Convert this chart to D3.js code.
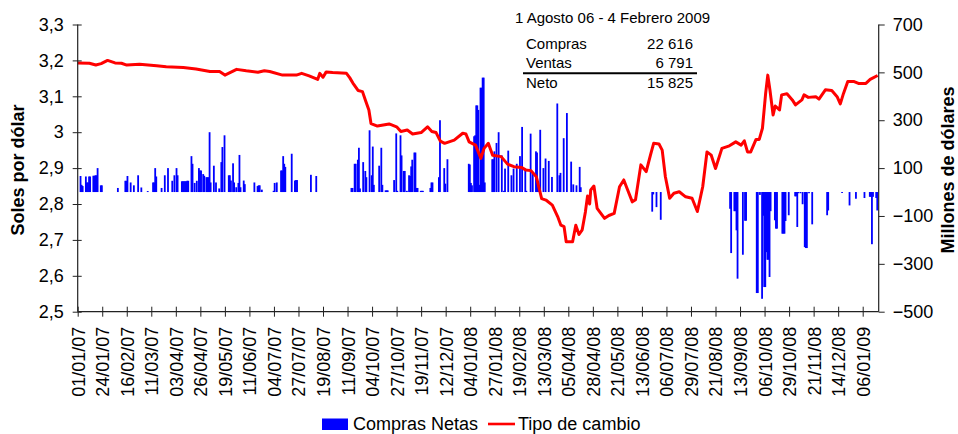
<!DOCTYPE html>
<html>
<head>
<meta charset="utf-8">
<script src="https://cdn.jsdelivr.net/npm/d3@7"></script>
<style>
  body { margin: 0; background: #fff; }
  svg { font-family: "Liberation Sans", Arial, sans-serif; }
</style>
</head>
<body>
<div id="canvas"></div>
<script>
// tipo de cambio (S/. por US$)
const tipoCambio = [
  ["2007-01-01",3.193],["2007-01-12",3.192],["2007-01-18",3.187],["2007-01-23",3.191],["2007-01-29",3.200],
  ["2007-02-05",3.193],["2007-02-11",3.192],["2007-02-16",3.187],["2007-02-28",3.189],["2007-03-16",3.185],
  ["2007-03-25",3.182],["2007-04-10",3.180],["2007-04-22",3.176],["2007-05-05",3.169],["2007-05-14",3.169],
  ["2007-05-19",3.159],["2007-05-30",3.175],["2007-06-08",3.171],["2007-06-19",3.167],["2007-06-25",3.171],
  ["2007-06-30",3.169],["2007-07-12",3.159],["2007-07-25",3.159],["2007-07-30",3.164],["2007-08-06",3.157],
  ["2007-08-14",3.147],["2007-08-16",3.164],["2007-08-19",3.153],["2007-08-22",3.168],["2007-08-28",3.166],
  ["2007-09-10",3.164],["2007-09-13",3.152],["2007-09-16",3.137],["2007-09-21",3.116],["2007-09-25",3.113],
  ["2007-09-28",3.087],["2007-10-01",3.062],["2007-10-03",3.024],["2007-10-09",3.017],["2007-10-20",3.023],
  ["2007-10-27",3.015],["2007-10-31",3.002],["2007-11-06",3.006],["2007-11-11",2.995],["2007-11-19",2.999],
  ["2007-11-25",3.015],["2007-11-29",3.002],["2007-12-03",2.999],["2007-12-07",2.975],["2007-12-11",2.969],
  ["2007-12-20",2.978],["2007-12-28",2.997],["2007-12-31",2.995],["2008-01-03",2.973],["2008-01-09",2.964],
  ["2008-01-14",2.927],["2008-01-17",2.955],["2008-01-21",2.969],["2008-01-25",2.936],["2008-02-02",2.932],
  ["2008-02-08",2.911],["2008-02-14",2.904],["2008-02-21",2.902],["2008-02-25",2.895],["2008-03-01",2.893],
  ["2008-03-06",2.876],["2008-03-09",2.839],["2008-03-11",2.815],["2008-03-15",2.811],["2008-03-21",2.797],
  ["2008-03-26",2.765],["2008-03-29",2.741],["2008-04-01",2.737],["2008-04-03",2.695],["2008-04-09",2.695],
  ["2008-04-12",2.741],["2008-04-15",2.715],["2008-04-18",2.728],["2008-04-21",2.778],["2008-04-23",2.822],
  ["2008-04-25",2.800],["2008-04-26",2.839],["2008-04-29",2.850],["2008-05-02",2.788],["2008-05-09",2.760],
  ["2008-05-13",2.768],["2008-05-18",2.774],["2008-05-23",2.848],["2008-05-27",2.867],["2008-05-30",2.844],
  ["2008-06-04",2.806],["2008-06-07",2.812],["2008-06-12",2.909],["2008-06-17",2.890],["2008-06-21",2.936],
  ["2008-06-24",2.969],["2008-06-29",2.967],["2008-07-02",2.950],["2008-07-05",2.876],["2008-07-09",2.816],
  ["2008-07-13",2.830],["2008-07-18",2.834],["2008-07-24",2.820],["2008-07-30",2.816],["2008-08-04",2.779],
  ["2008-08-09",2.848],["2008-08-13",2.945],["2008-08-17",2.936],["2008-08-21",2.899],["2008-08-27",2.955],
  ["2008-09-03",2.962],["2008-09-09",2.973],["2008-09-14",2.964],["2008-09-17",2.976],["2008-09-20",2.945],
  ["2008-09-23",2.945],["2008-09-28",2.980],["2008-10-01",2.980],["2008-10-04",3.011],["2008-10-07",3.108],
  ["2008-10-09",3.159],["2008-10-11",3.118],["2008-10-14",3.048],["2008-10-16",3.073],["2008-10-20",3.062],
  ["2008-10-22",3.104],["2008-10-27",3.107],["2008-11-01",3.090],["2008-11-04",3.076],["2008-11-10",3.090],
  ["2008-11-12",3.104],["2008-11-16",3.097],["2008-11-23",3.099],["2008-11-26",3.092],["2008-12-02",3.118],
  ["2008-12-08",3.116],["2008-12-13",3.099],["2008-12-16",3.079],["2008-12-19",3.108],["2008-12-23",3.141],
  ["2008-12-29",3.141],["2009-01-02",3.136],["2009-01-09",3.136],["2009-01-13",3.147],["2009-01-20",3.158]
];

// compras netas BCRP (millones US$), 2007
const comprasNetas2007 = [
  ["2007-01-03",67],["2007-01-04",30],["2007-01-05",25],["2007-01-08",65],["2007-01-09",40],["2007-01-10",40],
  ["2007-01-11",65],["2007-01-12",65],["2007-01-15",68],["2007-01-16",68],["2007-01-17",70],["2007-01-18",70],
  ["2007-01-19",100],["2007-01-22",28],["2007-01-23",28],["2007-02-07",17],["2007-02-14",47],["2007-02-15",47],
  ["2007-02-16",67],["2007-02-19",40],["2007-02-22",28],["2007-02-26",70],["2007-03-01",19],["2007-03-07",4],
  ["2007-03-12",40],["2007-03-13",40],["2007-03-14",100],["2007-03-15",65],["2007-03-20",17],["2007-03-23",70],
  ["2007-03-26",100],["2007-03-30",47],["2007-04-01",70],["2007-04-03",100],["2007-04-04",70],["2007-04-08",45],
  ["2007-04-09",45],["2007-04-10",45],["2007-04-11",45],["2007-04-12",45],["2007-04-13",47],["2007-04-14",47],
  ["2007-04-17",150],["2007-04-18",118],["2007-04-20",38],["2007-04-22",47],["2007-04-24",100],["2007-04-25",90],
  ["2007-04-26",90],["2007-04-28",75],["2007-04-29",68],["2007-05-01",62],["2007-05-02",62],["2007-05-03",62],
  ["2007-05-04",250],["2007-05-05",40],["2007-05-08",110],["2007-05-10",40],["2007-05-13",15],["2007-05-15",125],
  ["2007-05-16",188],["2007-05-18",237],["2007-05-22",70],["2007-05-23",70],["2007-05-24",48],["2007-05-26",120],
  ["2007-05-27",40],["2007-05-29",20],["2007-05-31",38],["2007-06-01",155],["2007-06-02",20],["2007-06-05",48],
  ["2007-06-06",33],["2007-06-15",40],["2007-06-18",25],["2007-06-19",28],["2007-06-20",28],["2007-06-22",10],
  ["2007-07-03",5],["2007-07-04",38],["2007-07-06",40],["2007-07-10",90],["2007-07-11",90],["2007-07-12",150],
  ["2007-07-13",118],["2007-07-14",105],["2007-07-20",160],["2007-07-23",48],["2007-07-24",50],["2007-07-25",50],
  ["2007-08-07",72],["2007-08-12",67],["2007-09-14",17],["2007-09-15",17],["2007-09-17",118],["2007-09-18",118],
  ["2007-09-20",135],["2007-09-21",185],["2007-09-22",15],["2007-09-25",125],["2007-09-27",88],["2007-09-28",62],
  ["2007-10-01",258],["2007-10-03",70],["2007-10-04",190],["2007-10-05",30],["2007-10-10",110],["2007-10-12",185],
  ["2007-10-13",30],["2007-10-16",7],["2007-10-17",7],["2007-10-18",7],["2007-10-24",50],["2007-10-26",245],
  ["2007-10-27",5],["2007-10-30",237],["2007-10-31",153],["2007-11-02",88],["2007-11-03",88],["2007-11-05",5],
  ["2007-11-07",70],["2007-11-08",67],["2007-11-09",107],["2007-11-10",135],["2007-11-12",165],["2007-11-13",165],
  ["2007-11-14",17],["2007-11-15",17],["2007-11-18",5],["2007-11-19",5],["2007-11-20",5],["2007-11-27",17],
  ["2007-11-28",40],["2007-11-29",40],["2007-12-05",62],["2007-12-06",300],["2007-12-10",100],["2007-12-11",35],
  ["2007-12-13",137]
];

// compras netas 2008 - ene 2009
const comprasNetas2008 = [
  ["2008-01-02",118],["2008-01-03",115],["2008-01-04",38],["2008-01-05",28],["2008-01-07",233],["2008-01-08",237],
  ["2008-01-09",362],["2008-01-10",362],["2008-01-11",343],["2008-01-12",30],["2008-01-13",436],["2008-01-14",436],
  ["2008-01-15",478],["2008-01-16",478],["2008-01-17",40],["2008-01-24",137],["2008-01-25",137],["2008-01-26",170],
  ["2008-01-28",205],["2008-01-30",250],["2008-02-02",153],["2008-02-04",5],["2008-02-05",98],["2008-02-08",173],
  ["2008-02-11",70],["2008-02-13",98],["2008-02-16",118],["2008-02-19",150],["2008-02-21",272],["2008-02-24",98],
  ["2008-02-25",5],["2008-02-29",244],["2008-03-02",83],["2008-03-05",170],["2008-03-06",165],["2008-03-07",20],
  ["2008-03-09",260],["2008-03-12",100],["2008-03-14",140],["2008-03-17",130],["2008-03-20",63],["2008-03-25",370],
  ["2008-03-27",70],["2008-03-28",80],["2008-03-31",225],["2008-04-03",330],["2008-04-07",127],["2008-04-09",32],
  ["2008-04-12",28],["2008-04-15",105],["2008-04-16",20],
  ["2008-06-22",-82],["2008-06-23",-10],["2008-06-26",-63],["2008-06-30",-116],
  ["2008-09-03",-70],["2008-09-04",-255],["2008-09-07",-80],["2008-09-08",-80],["2008-09-09",-160],["2008-09-10",-362],
  ["2008-09-15",-262],["2008-09-17",-120],["2008-09-18",-120],["2008-09-28",-422],["2008-09-29",-422],["2008-10-01",-12],
  ["2008-10-03",-446],["2008-10-04",-99],["2008-10-05",-397],["2008-10-06",-397],["2008-10-07",-251],["2008-10-08",-283],
  ["2008-10-09",-283],["2008-10-10",-355],["2008-10-11",-80],["2008-10-15",-118],["2008-10-16",-153],["2008-10-17",-153],
  ["2008-10-22",-174],["2008-10-23",-174],["2008-10-24",-174],["2008-10-25",-121],["2008-10-28",-97],["2008-11-03",-18],
  ["2008-11-04",-18],["2008-11-05",-146],["2008-11-06",-5],["2008-11-08",-5],["2008-11-10",-51],["2008-11-12",-230],
  ["2008-11-13",-234],["2008-11-14",-234],["2008-11-16",-5],["2008-11-19",-135],["2008-12-03",-97],["2008-12-04",-77],
  ["2008-12-17",-4],["2008-12-24",-56],["2008-12-30",-28],["2009-01-07",-25],["2009-01-12",-20],["2009-01-13",-20],
  ["2009-01-14",-218],["2009-01-15",-20],["2009-01-18",-25],["2009-01-19",-77]
];

const xTickLabels = ["01/01/07","24/01/07","16/02/07","11/03/07","03/04/07","26/04/07","19/05/07","11/06/07",
  "04/07/07","27/07/07","19/08/07","11/09/07","04/10/07","27/10/07","19/11/07","12/12/07","04/01/08","27/01/08",
  "19/02/08","13/03/08","05/04/08","28/04/08","21/05/08","13/06/08","06/07/08","29/07/08","21/08/08","13/09/08",
  "06/10/08","29/10/08","21/11/08","14/12/08","06/01/09"];
const leftTicks = [2.5, 2.6, 2.7, 2.8, 2.9, 3.0, 3.1, 3.2, 3.3];
const rightTicks = [-500, -300, -100, 100, 300, 500, 700];

const periodo = "1 Agosto 06 - 4 Febrero 2009";
const resumenRows = ["Compras", "Ventas", "Neto"];
const resumenVals = ["22 616", "6 791", "15 825"];

const width = 958, height = 434;
const margin = { top: 24.5, left: 77.7, bottom: 122.3, right: 79.3 };
const iwidth = width - margin.left - margin.right;
const iheight = height - margin.top - margin.bottom;

const parse = d3.utcParse("%Y-%m-%d");
const parseTick = d3.utcParse("%d/%m/%y");

const svg = d3.select("#canvas").append("svg")
  .attr("width", width)
  .attr("height", height);

const g = svg.append("g").attr("transform", `translate(${margin.left},${margin.top})`);

const x = d3.scaleUtc()
  .domain([parse("2007-01-01"), parse("2009-01-21")])
  .range([0, iwidth]);
const yL = d3.scaleLinear().domain([2.5, 3.3]).range([iheight, 0]);
const yR = d3.scaleLinear().domain([-500, 700]).range([iheight, 0]);

// barras
const bars = comprasNetas2007.concat(comprasNetas2008).map(d => ({ date: parse(d[0]), v: d[1] }));
g.selectAll("rect.bar").data(bars).enter().append("rect")
  .attr("class", "bar")
  .attr("fill", "#0000ff")
  .attr("x", d => x(d.date) - 0.2)
  .attr("width", 1.8)
  .attr("y", d => yR(Math.max(0, d.v)))
  .attr("height", d => Math.abs(yR(d.v) - yR(0)));

// linea tipo de cambio
const line = d3.line()
  .x(d => x(parse(d[0])))
  .y(d => yL(d[1]));
g.append("path")
  .datum(tipoCambio)
  .attr("fill", "none")
  .attr("stroke", "#ff0000")
  .attr("stroke-width", 3)
  .attr("stroke-linejoin", "round")
  .attr("d", line);

const fmtL = v => String(+v.toFixed(1)).replace(".", ",");

const axL = g.append("g")
  .call(d3.axisLeft(yL).tickValues(leftTicks).tickFormat(fmtL).tickSize(5).tickPadding(9));
axL.selectAll(".tick line").attr("x1", 4);

const axR = g.append("g")
  .attr("transform", `translate(${iwidth},0)`)
  .call(d3.axisRight(yR).tickValues(rightTicks).tickSize(6).tickPadding(8));

const axB = g.append("g")
  .attr("transform", `translate(0,${iheight})`)
  .call(d3.axisBottom(x).tickValues(xTickLabels.map(parseTick)).tickFormat(d3.utcFormat("%d/%m/%y")).tickSize(5));
axB.selectAll(".tick line").attr("y1", -5);
axB.selectAll(".tick text")
  .attr("transform", "rotate(-90)")
  .attr("text-anchor", "end")
  .attr("x", -15)
  .attr("y", 0)
  .attr("dy", "0.36em");

[axL, axR, axB].forEach(a => {
  a.select(".domain").attr("stroke", "#222").attr("stroke-width", 1.2);
  a.selectAll(".tick line").attr("stroke", "#222");
  a.selectAll("text").attr("font-size", 18).attr("font-family", "Liberation Sans, Arial, sans-serif").attr("fill", "#000");
});
axL.select(".domain").attr("d", `M0,${iheight}V0`);
axR.select(".domain").attr("d", `M0,${iheight}V0`);
axB.select(".domain").attr("d", `M0,0H${iwidth}`);

// titulos de ejes
svg.append("text")
  .attr("transform", `translate(24,${(24.5 + 311.7) / 2 + 2}) rotate(-90)`)
  .attr("text-anchor", "middle")
  .attr("font-size", 18).attr("font-weight", "bold")
  .text("Soles por dólar");
svg.append("text")
  .attr("transform", `translate(953.5,170) rotate(-90)`)
  .attr("text-anchor", "middle")
  .attr("font-size", 18).attr("font-weight", "bold")
  .text("Millones de dólares");

// cuadro resumen
const box = svg.append("g").attr("font-size", 15);
box.append("text").attr("x", 515).attr("y", 22.5).text(periodo);
const rowY = [49, 68, 88];
resumenRows.forEach((r, i) => {
  box.append("text").attr("x", 526).attr("y", rowY[i]).text(r);
  box.append("text").attr("x", 693).attr("y", rowY[i]).attr("text-anchor", "end").text(resumenVals[i]);
});
box.append("line")
  .attr("x1", 523).attr("x2", 697).attr("y1", 73.3).attr("y2", 73.3)
  .attr("stroke", "#000").attr("stroke-width", 2);

// leyenda
const leg = svg.append("g").attr("font-size", 18);
leg.append("rect").attr("x", 322).attr("y", 418.5).attr("width", 26).attr("height", 11.5).attr("fill", "#0000ff");
leg.append("text").attr("x", 353).attr("y", 430).text("Compras Netas");
leg.append("line").attr("x1", 488).attr("x2", 515).attr("y1", 424).attr("y2", 424)
  .attr("stroke", "#ff0000").attr("stroke-width", 2.6);
leg.append("text").attr("x", 518).attr("y", 430).text("Tipo de cambio");
</script>
</body>
</html>
